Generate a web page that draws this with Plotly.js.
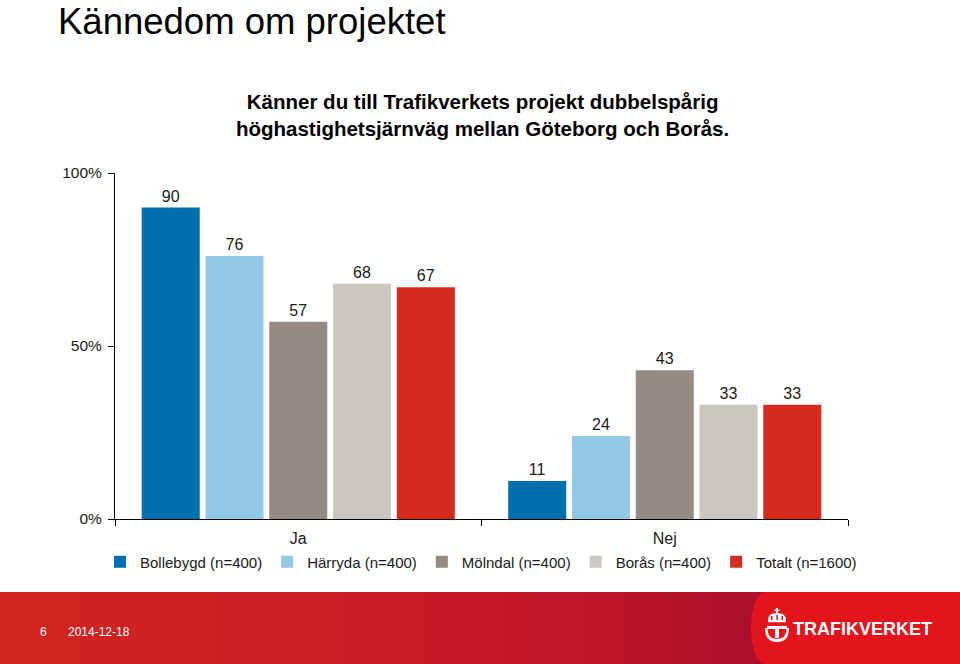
<!DOCTYPE html>
<html>
<head>
<meta charset="utf-8">
<script src="https://cdn.plot.ly/plotly-3.0.1.min.js"></script>
<style>
  html, body { margin: 0; padding: 0; background: #ffffff; }
  #wrap { position: relative; width: 960px; height: 664px; overflow: hidden; }
  #footer { position: absolute; left: 0; top: 592px; width: 960px; height: 72px;
    background: linear-gradient(to right, #d2251f 0%, #cc1c26 35%, #c2152a 60%, #ab0f2b 79%, #a80f2b 80%); z-index: 0; }
  #panel { position: absolute; left: 751px; top: 592px; width: 209px; height: 72px; background: #e3141c;
    border-top-left-radius: 14px 36px; border-bottom-left-radius: 14px 36px; z-index: 0; }
  #logo { position: absolute; left: 763px; top: 608px; width: 28px; height: 36px; z-index: 2; }
  #chart { position: absolute; left: 0; top: 0; width: 960px; height: 664px; z-index: 1; }
</style>
</head>
<body>
<div id="wrap">
  <div id="footer"></div>
  <div id="panel"></div>
  <svg id="logo" viewBox="0 0 28 36">
    <g fill="#ffffff">
      <rect x="13" y="0" width="2" height="5"/>
      <rect x="11.5" y="1.5" width="5" height="1.6"/>
      <path d="M5 12 Q5 5 14 5 Q23 5 23 12 Z"/>
      <rect x="5" y="12" width="18" height="2.2"/>
      <path d="M4 18 H24 V21 H16 V30 H12 V21 H4 Z"/>
      <path d="M2 20 Q2 34 14 34 Q26 34 26 20 L23.5 20 Q23.5 31 14 31 Q4.5 31 4.5 20 Z"/>
    </g>
    <g fill="#e3141c">
      <rect x="8" y="8" width="1.5" height="4"/>
      <rect x="13.3" y="7" width="1.5" height="5"/>
      <rect x="18.5" y="8" width="1.5" height="4"/>
    </g>
  </svg>
  <div id="chart"></div>
</div>
<script>
// ---- Data ----
const categories = ["Ja", "Nej"];
const seriesNames = ["Bollebygd (n=400)", "Härryda (n=400)", "Mölndal (n=400)", "Borås (n=400)", "Totalt (n=1600)"];
const bollebygd = [90, 11];
const harryda   = [76, 24];
const molndal   = [57, 43];
const boras     = [68, 33];
const totalt    = [67, 33];
const yTickVals = [0, 50, 100];
const yTickText = ["0%", "50%", "100%"];
const pageTitle = "Kännedom om projektet";
const chartTitle = "Känner du till Trafikverkets projekt dubbelspårig<br>höghastighetsjärnväg mellan Göteborg och Borås.";
const footerPage = "6";
const footerDate = "2014-12-18";
const brand = "TRAFIKVERKET";

// ---- Styles ----
const colors = ["#006fae", "#93c9e6", "#958b82", "#cbc6c0", "#d52b1e"];
const seriesValues = [bollebygd, harryda, molndal, boras, totalt];
const FONT = "Arial, 'Liberation Sans', Helvetica, sans-serif";
const NARROW = "'Liberation Sans Narrow', 'Arial Narrow', " + FONT;

const traces = seriesValues.map((vals, i) => ({
  type: "bar",
  name: seriesNames[i],
  x: categories,
  y: vals,
  marker: { color: colors[i], line: { width: 0 } },
  text: vals.map(v => String(v)),
  textposition: "outside",
  textfont: { family: FONT, size: 16, color: "#1a1a1a" },
  cliponaxis: false,
  hoverinfo: "skip"
}));

const layout = {
  width: 960,
  height: 664,
  margin: { l: 115, r: 112, t: 173, b: 145, pad: 0 },
  paper_bgcolor: "rgba(0,0,0,0)",
  plot_bgcolor: "rgba(0,0,0,0)",
  font: { family: FONT, color: "#1a1a1a" },
  barmode: "group",
  bargap: 0.13,
  bargroupgap: 0.09,
  showlegend: true,
  title: {
    text: "<b>" + chartTitle + "</b>",
    font: { family: FONT, size: 20.5, color: "#000000" },
    x: 0.5015, xref: "paper", xanchor: "center",
    y: 1 - 109 / 664, yref: "container", yanchor: "middle"
  },
  xaxis: {
    type: "category",
    showline: true, linecolor: "#000000", linewidth: 1,
    ticks: "outside", tickson: "boundaries", ticklen: 6, tickcolor: "#000000",
    tickfont: { family: FONT, size: 16, color: "#1a1a1a" },
    ticklabelstandoff: 5,
    showgrid: false, zeroline: false,
    fixedrange: true
  },
  yaxis: {
    range: [0, 100],
    tickvals: yTickVals, ticktext: yTickText,
    showline: true, linecolor: "#000000", linewidth: 1,
    ticks: "outside", ticklen: 6, tickcolor: "#000000",
    tickfont: { family: FONT, size: 15.5, color: "#1a1a1a" },
    ticklabelstandoff: 3,
    showgrid: false, zeroline: false,
    fixedrange: true
  },
  legend: {
    orientation: "h",
    xref: "paper", yref: "paper",
    x: (100 - 115) / 733, xanchor: "left",
    y: (519 - 562) / 346, yanchor: "middle",
    font: { family: FONT, size: 15, color: "#1a1a1a" },
    itemwidth: 30,
    bgcolor: "rgba(0,0,0,0)",
    traceorder: "normal"
  },
  annotations: [
    { text: pageTitle, xref: "paper", yref: "paper",
      x: (57 - 115) / 733, y: 519 / 346, xanchor: "left", yanchor: "top",
      borderpad: 0,
      showarrow: false, font: { family: FONT, size: 36.5, color: "#000000" } },
    { text: footerPage, xref: "paper", yref: "paper",
      x: (38 - 115) / 733, y: (519 - 632) / 346, xanchor: "left", yanchor: "middle",
      showarrow: false, font: { family: NARROW, size: 12, color: "#ffffff" } },
    { text: footerDate, xref: "paper", yref: "paper",
      x: (66 - 115) / 733, y: (519 - 632) / 346, xanchor: "left", yanchor: "middle",
      showarrow: false, font: { family: NARROW, size: 12, color: "#ffffff" } },
    { text: "<b>" + brand + "</b>", xref: "paper", yref: "paper",
      x: (791 - 115) / 733, y: (519 - 629) / 346, xanchor: "left", yanchor: "middle",
      showarrow: false, font: { family: NARROW, size: 18, color: "#ffffff" } }
  ]
};

Plotly.newPlot("chart", traces, layout, { displayModeBar: false, staticPlot: true });
</script>
</body>
</html>
